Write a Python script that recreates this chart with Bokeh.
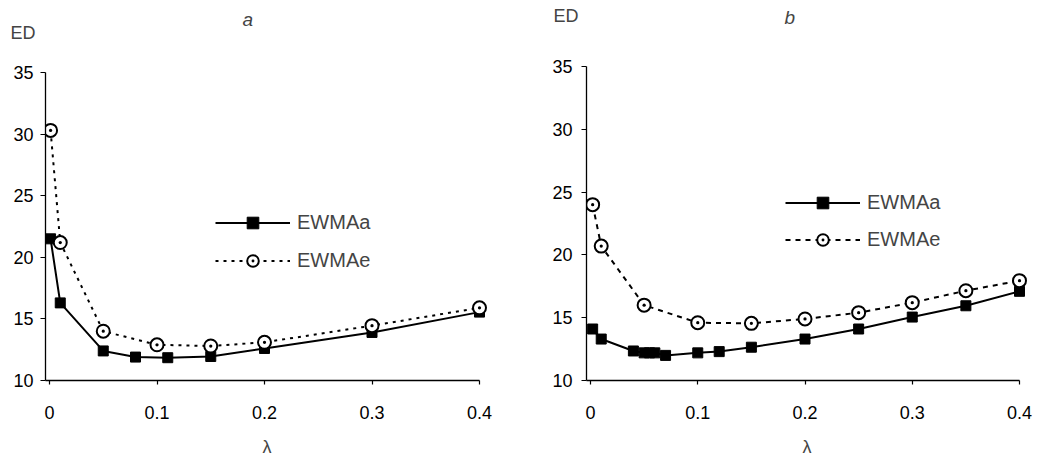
from bokeh.plotting import figure
from bokeh.models import Range1d, FixedTicker, Legend, LegendItem, Title
from bokeh.layouts import row
from bokeh.embed import file_html
from bokeh.resources import INLINE

# ---- data ----
lam_a_a = [0.001, 0.01, 0.05, 0.08, 0.11, 0.15, 0.2, 0.3, 0.4]
ed_a_a = [21.5, 16.3, 12.4, 11.9, 11.85, 11.95, 12.6, 13.9, 15.55]
lam_a_e = [0.001, 0.01, 0.05, 0.1, 0.15, 0.2, 0.3, 0.4]
ed_a_e = [30.3, 21.2, 14.0, 12.9, 12.8, 13.1, 14.45, 15.9]

lam_b_a = [0.002, 0.01, 0.04, 0.05, 0.055, 0.06, 0.07, 0.1, 0.12, 0.15, 0.2, 0.25, 0.3, 0.35, 0.4]
ed_b_a = [14.1, 13.3, 12.35, 12.2, 12.2, 12.2, 12.0, 12.2, 12.3, 12.65, 13.3, 14.1, 15.05, 15.95, 17.1]
lam_b_e = [0.002, 0.01, 0.05, 0.1, 0.15, 0.2, 0.25, 0.3, 0.35, 0.4]
ed_b_e = [24.0, 20.7, 16.0, 14.6, 14.55, 14.9, 15.4, 16.2, 17.15, 17.95]

x_ticks = [0, 0.1, 0.2, 0.3, 0.4]
x_tick_labels = ["0", "0.1", "0.2", "0.3", "0.4"]
y_ticks = [10, 15, 20, 25, 30, 35]
series_names = ["EWMAa", "EWMAe"]
panel_titles = ["a", "b"]

FONT = "Liberation Sans"
FRAME_H = 314
LEG_GLYPH_H = 29


def make_panel(title, la, ya, le, ye, px_x, px_y, left_pad, right_pad, frame_w,
               b_left, b_right, dash, legend_xy, pitch, ed_offset, ed_standoff,
               t_offset, t_standoff, ystandoff):
    x0 = -left_pad / px_x
    x1 = 0.4 + right_pad / px_x
    y1 = 10 + FRAME_H / px_y
    p = figure(x_range=Range1d(x0, x1), y_range=Range1d(10, y1),
               frame_width=frame_w, frame_height=FRAME_H,
               min_border_left=b_left, min_border_top=66,
               min_border_right=b_right, min_border_bottom=80,
               output_backend="svg", toolbar_location=None)
    p.outline_line_color = None
    p.grid.visible = False
    p.background_fill_color = "white"
    p.border_fill_color = "white"

    # axes
    p.xaxis.ticker = FixedTicker(ticks=x_ticks)
    p.xaxis.major_label_overrides = {t: s for t, s in zip(x_ticks, x_tick_labels)}
    p.xaxis.bounds = (x0, 0.4)
    p.yaxis.ticker = FixedTicker(ticks=y_ticks)
    p.yaxis.bounds = (10, 35)
    for ax in (p.xaxis, p.yaxis):
        ax.axis_line_color = "black"
        ax.axis_line_width = 1.3
        ax.major_tick_line_color = "black"
        ax.major_tick_line_width = 1.2
        ax.major_tick_in = 0
        ax.minor_tick_line_color = None
        ax.major_label_text_font = FONT
        ax.major_label_text_font_size = "18px"
        ax.major_label_text_color = "black"
    p.yaxis.major_tick_out = 5
    p.yaxis.major_label_standoff = ystandoff
    p.xaxis.major_tick_out = 4
    p.xaxis.major_label_standoff = 21
    p.xaxis.axis_label = "\u03bb"
    p.xaxis.axis_label_text_font = FONT
    p.xaxis.axis_label_text_font_style = "normal"
    p.xaxis.axis_label_text_font_size = "18px"
    p.xaxis.axis_label_standoff = 15

    # series
    ra_l = p.line(la, ya, line_color="black", line_width=2)
    ra_s = p.scatter(la, ya, marker="square", size=10, fill_color="black",
                     line_color="black")
    re_l = p.line(le, ye, line_color="black", line_width=2, line_dash=dash)
    re_s = p.scatter(le, ye, marker="circle_dot", size=13, fill_color="white",
                     line_color="black", line_width=2)

    legend = Legend(items=[LegendItem(label=series_names[0], renderers=[ra_l, ra_s]),
                           LegendItem(label=series_names[1], renderers=[re_l, re_s])],
                    location=legend_xy, glyph_width=75, glyph_height=LEG_GLYPH_H,
                    label_height=LEG_GLYPH_H, spacing=pitch - LEG_GLYPH_H,
                    padding=0, margin=0, label_standoff=7,
                    border_line_color=None, background_fill_alpha=0,
                    label_text_font=FONT, label_text_font_size="20px")
    p.add_layout(legend)

    p.add_layout(Title(text="ED", align="left", vertical_align="top",
                       offset=ed_offset, standoff=ed_standoff, text_font=FONT,
                       text_font_size="18px", text_font_style="normal"), "above")
    p.add_layout(Title(text=title, align="left", vertical_align="top",
                       offset=t_offset, standoff=t_standoff, text_font=FONT,
                       text_font_size="19px", text_font_style="italic"), "above")
    return p


pa = make_panel(panel_titles[0], lam_a_a, ed_a_a, lam_a_e, ed_a_e,
                px_x=1075.0, px_y=12.32, left_pad=4, right_pad=9, frame_w=443,
                b_left=45, b_right=53, dash="3 5",
                legend_xy=(170, 105), pitch=38,
                ed_offset=-35, ed_standoff=-88, t_offset=197, t_standoff=-116,
                ystandoff=7)
pb = make_panel(panel_titles[1], lam_b_a, ed_b_a, lam_b_e, ed_b_e,
                px_x=1072.5, px_y=12.56, left_pad=4, right_pad=8, frame_w=441,
                b_left=45, b_right=10, dash="5 5",
                legend_xy=(199, 126), pitch=37,
                ed_offset=-33, ed_standoff=-121, t_offset=198, t_standoff=-120,
                ystandoff=9)

layout = row(pa, pb, spacing=0)
open("out.html", "w").write(file_html(layout, INLINE))
